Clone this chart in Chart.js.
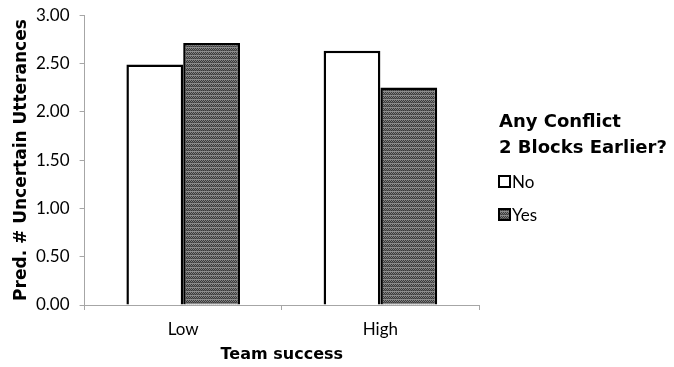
<!DOCTYPE html>
<html>
<head>
<meta charset="utf-8">
<script src="https://cdn.jsdelivr.net/npm/chart.js@4"></script>
<style>
  html, body { margin: 0; padding: 0; background: #fff; }
  #wrap { width: 674px; height: 367px; position: relative; }
</style>
</head>
<body>
<div id="wrap"><canvas id="c" width="674" height="367"></canvas></div>
<script>
// Predicted number of uncertain utterances by team success and prior conflict
const categories = ['Low', 'High'];
const seriesNames = ['No', 'Yes'];
const noConflict = [2.49, 2.63];
const yesConflict = [2.71, 2.25];
const yTicks = [0, 0.5, 1, 1.5, 2, 2.5, 3];
const legendTitle = ['Any Conflict', '2 Blocks Earlier?'];
const xTitle = 'Team success';
const yTitle = 'Pred. # Uncertain Utterances';

const FONT = "Lato, 'Open Sans', 'DejaVu Sans', sans-serif";
const BOLD = "'DejaVu Sans', 'Open Sans', sans-serif";

// Dark textured fill for the "Yes" series
function makeTexture() {
  const p = document.createElement('canvas');
  p.width = 4; p.height = 4;
  const g = p.getContext('2d');
  g.fillStyle = '#3a3a3a';
  g.fillRect(0, 0, 4, 4);
  g.fillStyle = '#828282';
  g.fillRect(0, 0, 1, 1); g.fillRect(2, 0, 1, 1);
  g.fillRect(1, 1, 1, 1); g.fillRect(3, 1, 1, 1);
  g.fillStyle = '#5e5e5e';
  g.fillRect(0, 2, 1, 1); g.fillRect(2, 2, 1, 1);
  g.fillStyle = '#8c8c8c';
  g.fillRect(0, 3, 4, 1);
  const ctx = document.getElementById('c').getContext('2d');
  return ctx.createPattern(p, 'repeat');
}
const texture = makeTexture();

// Legend drawn at the right with a two-line bold heading
const sideLegend = {
  id: 'sideLegend',
  afterDraw(chart) {
    const ctx = chart.ctx;
    ctx.save();
    ctx.fillStyle = '#000';
    ctx.textBaseline = 'middle';
    ctx.textAlign = 'left';
    ctx.font = "bold 18px " + BOLD;
    legendTitle.forEach((t, i) => ctx.fillText(t, 499, 122 + i * 26));
    const rows = [182, 215];
    chart.data.datasets.forEach((ds, i) => {
      const y = rows[i];
      ctx.fillStyle = ds.backgroundColor;
      ctx.fillRect(499, y - 6, 11, 11);
      ctx.lineWidth = 2;
      ctx.strokeStyle = '#000';
      ctx.strokeRect(499, y - 6, 11, 11);
      ctx.fillStyle = '#000';
      ctx.font = "17px " + FONT;
      ctx.fillText(ds.label, 512, y + 1);
    });
    ctx.restore();
  }
};

new Chart(document.getElementById('c'), {
  type: 'bar',
  data: {
    labels: categories,
    datasets: [
      { label: seriesNames[0], data: noConflict, backgroundColor: '#ffffff',
        borderColor: '#000', borderWidth: 2.5 },
      { label: seriesNames[1], data: yesConflict, backgroundColor: texture,
        borderColor: '#000', borderWidth: 2.5 }
    ]
  },
  options: {
    responsive: false,
    animation: false,
    layout: { padding: { top: 0, right: 195, left: 0, bottom: 4 } },
    datasets: { bar: { categoryPercentage: 0.576, barPercentage: 1.0 } },
    plugins: { legend: { display: false }, tooltip: { enabled: false } },
    scales: {
      x: {
        offset: true,
        grid: { offset: true, drawOnChartArea: false, drawTicks: true, tickLength: 5, color: '#a6a6a6' },
        border: { color: '#a6a6a6', width: 1 },
        ticks: { color: '#000', font: { family: FONT, size: 17, lineHeight: 1.0 }, padding: 11 },
        title: { display: true, text: xTitle, color: '#000',
                 font: { family: BOLD, size: 16, weight: 'bold', lineHeight: 1.0 },
                 padding: { top: -2, bottom: 0 } }
      },
      y: {
        min: 0, max: 3,
        afterBuildTicks(scale) { scale.ticks = yTicks.map(v => ({ value: v })); },
        grid: { drawOnChartArea: false, drawTicks: true, tickLength: 5, color: '#a6a6a6' },
        border: { color: '#a6a6a6', width: 1 },
        ticks: { color: '#000', font: { family: FONT, size: 17, lineHeight: 0.6 }, padding: 10,
                 callback: v => Number(v).toFixed(2) },
        title: { display: true, text: yTitle, color: '#000',
                 font: { family: BOLD, size: 17, weight: 'bold', lineHeight: 1.0 },
                 padding: { top: 13, bottom: -4 } }
      }
    }
  },
  plugins: [sideLegend]
});
</script>
</body>
</html>
